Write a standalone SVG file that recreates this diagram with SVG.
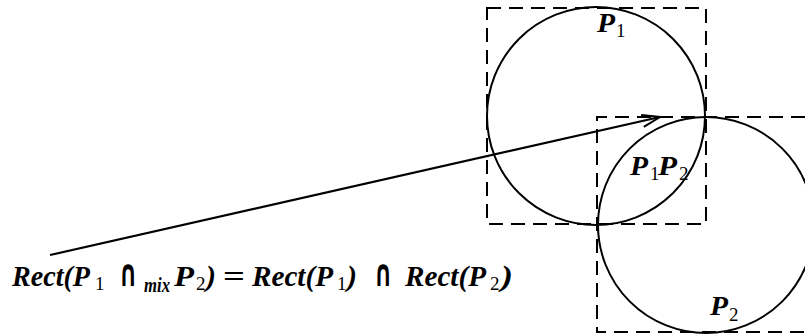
<svg xmlns="http://www.w3.org/2000/svg" width="805" height="336" viewBox="0 0 805 336">
<style>
.bg{fill:#fff}
.box{fill:none;stroke:#000;stroke-width:2;stroke-dasharray:14 8}
.circ{fill:none;stroke:#000;stroke-width:2}
.conn{fill:none;stroke:#000;stroke-width:2.2}
.t{font-family:"Liberation Serif",serif;font-weight:bold;font-style:italic;fill:#000}
.s{font-family:"Liberation Serif",serif;font-weight:normal;font-style:normal;fill:#000}
.op{font-family:"DejaVu Sans",sans-serif;font-weight:bold;font-style:normal;fill:#000}
.eq{font-family:"Liberation Serif",serif;font-weight:bold;font-style:normal;fill:#000}
</style>
<defs>
<marker id="arr" markerWidth="24" markerHeight="16" refX="20" refY="8" orient="auto" markerUnits="userSpaceOnUse">
<path d="M2,2 L20,8 L2,14" fill="none" stroke="#000" stroke-width="2"/>
</marker>
</defs>
<rect class="bg" x="0" y="0" width="805" height="336"/>
<g id="rect1"><rect class="box" x="487" y="8" width="219" height="216"/></g>
<g id="rect2"><path class="box" d="M805,117 H597 V332 H805"/></g>
<g id="circle1"><circle class="circ" cx="596" cy="116" r="109"/></g>
<g id="circle2"><circle class="circ" cx="706" cy="225" r="108"/></g>
<g id="connectors">
<line class="conn" x1="50" y1="255" x2="660" y2="117" marker-end="url(#arr)"/>
</g>
<g id="label-p1">
<text class="t" x="597" y="32" font-size="27" textLength="18" lengthAdjust="spacingAndGlyphs">P</text><text class="s" x="616" y="37" font-size="19">1</text>
</g>
<g id="label-p1p2">
<text class="t" x="630" y="175" font-size="27" textLength="18" lengthAdjust="spacingAndGlyphs">P</text><text class="s" x="650" y="180" font-size="19">1</text>
<text class="t" x="658" y="175" font-size="27" textLength="19" lengthAdjust="spacingAndGlyphs">P</text><text class="s" x="679" y="180" font-size="19">2</text>
</g>
<g id="label-p2">
<text class="t" x="710" y="315" font-size="27" textLength="18" lengthAdjust="spacingAndGlyphs">P</text><text class="s" x="729" y="321" font-size="19">2</text>
</g>
<g id="formula">
<text class="t" x="12" y="286" font-size="30" textLength="78" lengthAdjust="spacingAndGlyphs">Rect(P</text>
<text class="s" x="95" y="290" font-size="19">1</text>
<text class="op" transform="translate(119,286) scale(0.8,1.35)" font-size="28">∩</text>
<text class="t" x="144" y="292" font-size="20" textLength="26" lengthAdjust="spacingAndGlyphs">mix</text>
<text class="t" x="174" y="286" font-size="30" textLength="20" lengthAdjust="spacingAndGlyphs">P</text>
<text class="s" x="196" y="290" font-size="19">2</text>
<text class="t" x="206" y="286" font-size="30" textLength="10" lengthAdjust="spacingAndGlyphs">)</text>
<text class="eq" x="223" y="286" font-size="30" textLength="22" lengthAdjust="spacingAndGlyphs">=</text>
<text class="t" x="252" y="286" font-size="30" textLength="81" lengthAdjust="spacingAndGlyphs">Rect(P</text>
<text class="s" x="337" y="290" font-size="19">1</text>
<text class="t" x="347" y="286" font-size="30" textLength="10" lengthAdjust="spacingAndGlyphs">)</text>
<text class="op" transform="translate(374,286) scale(0.8,1.35)" font-size="28">∩</text>
<text class="t" x="405" y="286" font-size="30" textLength="81" lengthAdjust="spacingAndGlyphs">Rect(P</text>
<text class="s" x="490" y="290" font-size="19">2</text>
<text class="t" x="501" y="286" font-size="30" textLength="12" lengthAdjust="spacingAndGlyphs">)</text>
</g>
</svg>
